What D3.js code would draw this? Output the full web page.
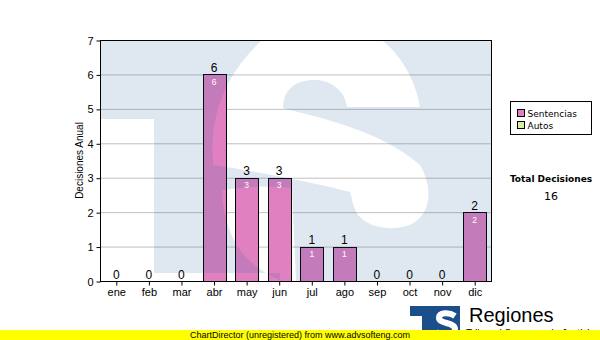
<!DOCTYPE html>
<html>
<head>
<meta charset="utf-8">
<script src="https://cdn.jsdelivr.net/npm/d3@7"></script>
<style>
    body { margin: 0; background: #fff; }
    svg { display: block; }
</style>
</head>
<body>
<script>
const months = ['ene', 'feb', 'mar', 'abr', 'may', 'jun', 'jul', 'ago', 'sep', 'oct', 'nov', 'dic'];
const sentencias = [0, 0, 0, 6, 3, 3, 1, 1, 0, 0, 0, 2];
const yTicks = [0, 1, 2, 3, 4, 5, 6, 7];
const legendItems = ['Sentencias', 'Autos'];
const legendColors = ['#e080c0', '#d8f0a0'];
const totalDecisiones = 16;

const W = 600, H = 340;
const plot = { left: 100, top: 40, right: 491, bottom: 281 };

const svg = d3.select('body').append('svg')
    .attr('width', W)
    .attr('height', H);

const x = d3.scaleBand()
    .domain(months)
    .range([plot.left, plot.right])
    .paddingInner(0.3)
    .paddingOuter(0.15);

const y = d3.scaleLinear()
    .domain([0, 7])
    .range([plot.bottom, plot.top]);

svg.append('clipPath').attr('id', 'plotclip')
    .append('rect')
    .attr('x', plot.left).attr('y', plot.top)
    .attr('width', plot.right - plot.left).attr('height', plot.bottom - plot.top);

// grid
svg.append('g')
    .selectAll('line')
    .data(yTicks.filter(d => d > 0 && d < 7))
    .join('line')
    .attr('x1', plot.left).attr('x2', plot.right)
    .attr('y1', d => y(d) + 0.5).attr('y2', d => y(d) + 0.5)
    .attr('stroke', '#c0c0c0');

const rows = sentencias.map((v, i) => ({ m: months[i], v }));

// bars
svg.append('g')
    .selectAll('rect')
    .data(rows.filter(d => d.v > 0))
    .join('rect')
    .attr('x', d => Math.round(x(d.m)) + 0.5)
    .attr('y', d => Math.round(y(d.v)) + 0.5)
    .attr('width', Math.round(x.bandwidth()))
    .attr('height', d => Math.round(y(0)) - Math.round(y(d.v)))
    .attr('fill', legendColors[0])
    .attr('stroke', '#000');

// watermark (TS logo), laid over the plot with transparency
const wm = svg.append('g')
    .attr('clip-path', 'url(#plotclip)')
    .attr('opacity', 0.14);

wm.append('path')
    .attr('fill', '#1e5a96')
    .attr('fill-rule', 'evenodd')
    .attr('d', [
        'M100,40 H491 V281 H100 Z',
        'M100,119 H154 V273 H280 V290 H100 Z',
        // upper S stroke
        'M262,30 L367,30 C395,45 415,75 420,107 L347,107 C345,90 330,80 315,80 C295,80 283,90 283,108 ' +
        'C320,118 380,130 420,165 C432,185 432,210 415,222 C400,232 370,230 358,215 C352,205 352,198 350,192 ' +
        'C320,184 260,172 213,165 C210,120 220,80 262,40 Z',
        // lower left part
        'M222,190 C250,186 275,186 292,188 L296,281 L282,281 C250,268 225,245 222,190 Z'
    ].join(' '));

// value labels
const labels = svg.append('g').attr('font-family', 'Liberation Sans, Arial, sans-serif');

labels.selectAll('text.top')
    .data(rows)
    .join('text')
    .attr('class', 'top')
    .attr('x', d => x(d.m) + x.bandwidth() / 2)
    .attr('y', d => y(d.v) - 2.5)
    .attr('text-anchor', 'middle')
    .attr('font-size', 12)
    .attr('fill', '#000')
    .text(d => d.v);

labels.selectAll('text.inner')
    .data(rows.filter(d => d.v > 0))
    .join('text')
    .attr('class', 'inner')
    .attr('x', d => x(d.m) + x.bandwidth() / 2)
    .attr('y', d => y(d.v) + 10.5)
    .attr('text-anchor', 'middle')
    .attr('font-size', 8.5)
    .attr('fill', '#fff')
    .text(d => d.v);

// plot frame
svg.append('rect')
    .attr('x', plot.left + 0.5).attr('y', plot.top + 0.5)
    .attr('width', plot.right - plot.left).attr('height', plot.bottom - plot.top)
    .attr('fill', 'none')
    .attr('stroke', '#000');

// axes
const yAxis = svg.append('g')
    .attr('transform', `translate(${plot.left + 0.5},0.5)`)
    .call(d3.axisLeft(y).tickValues(yTicks).tickSize(4).tickPadding(3).tickFormat(d3.format('d')));

const xAxis = svg.append('g')
    .attr('transform', `translate(0.5,${plot.bottom + 0.5})`)
    .call(d3.axisBottom(x).tickSize(4).tickPadding(3));

[yAxis, xAxis].forEach(g => {
    g.select('.domain').remove();
    g.selectAll('line').attr('stroke', '#000');
    g.selectAll('text')
        .attr('font-family', 'Liberation Sans, Arial, sans-serif')
        .attr('font-size', 11)
        .attr('fill', '#000');
});

svg.append('text')
    .attr('transform', `translate(83,${(plot.top + plot.bottom) / 2}) rotate(-90)`)
    .attr('text-anchor', 'middle')
    .attr('font-family', 'Liberation Sans, Arial, sans-serif')
    .attr('font-size', 10)
    .text('Decisiones Anual');

// legend
const legend = svg.append('g').attr('transform', 'translate(510.5,101.5)');
legend.append('rect')
    .attr('width', 81).attr('height', 33)
    .attr('fill', '#fff').attr('stroke', '#000');

const li = legend.selectAll('g')
    .data(legendItems)
    .join('g')
    .attr('transform', (d, i) => `translate(7,${8 + i * 12})`);

li.append('rect')
    .attr('width', 7).attr('height', 7)
    .attr('fill', (d, i) => legendColors[i])
    .attr('stroke', '#000');

li.append('text')
    .attr('x', 10).attr('y', 7)
    .attr('font-family', 'DejaVu Sans, Verdana, sans-serif')
    .attr('font-size', 9)
    .text(d => d);

// total
svg.append('text')
    .attr('x', 551).attr('y', 182)
    .attr('text-anchor', 'middle')
    .attr('font-family', 'DejaVu Sans, Verdana, sans-serif')
    .attr('font-weight', 'bold')
    .attr('font-size', 9)
    .text('Total Decisiones');

svg.append('text')
    .attr('x', 551).attr('y', 200)
    .attr('text-anchor', 'middle')
    .attr('font-family', 'DejaVu Sans, Verdana, sans-serif')
    .attr('font-size', 11)
    .text(totalDecisiones);

// logo
const logo = svg.append('g');
logo.append('rect')
    .attr('x', 410).attr('y', 306).attr('width', 50).attr('height', 34)
    .attr('fill', '#1a4f8c');
logo.append('rect')
    .attr('x', 410).attr('y', 316).attr('width', 12).attr('height', 24)
    .attr('fill', '#fff');
logo.append('path')
    .attr('fill', 'none')
    .attr('stroke', '#fff')
    .attr('stroke-width', 6)
    .attr('d', 'M455,316 C449,312 439,312 439,318 C439,324 455,322 455,329 C455,336 443,336 436,332');
logo.append('text')
    .attr('x', 469).attr('y', 322)
    .attr('font-family', 'Liberation Sans, Arial, sans-serif')
    .attr('font-size', 20)
    .text('Regiones');
logo.append('text')
    .attr('x', 466).attr('y', 337)
    .attr('font-family', 'Liberation Sans, Arial, sans-serif')
    .attr('font-size', 10)
    .text('Tribunal Supremo de Justicia');

// unregistered banner
svg.append('rect')
    .attr('x', 0).attr('y', 330).attr('width', W).attr('height', 10)
    .attr('fill', '#ffff00');
svg.append('text')
    .attr('x', 190).attr('y', 338)
    .attr('font-family', 'Liberation Sans, Arial, sans-serif')
    .attr('font-size', 9)
    .text('ChartDirector (unregistered) from www.advsofteng.com');
</script>
</body>
</html>
